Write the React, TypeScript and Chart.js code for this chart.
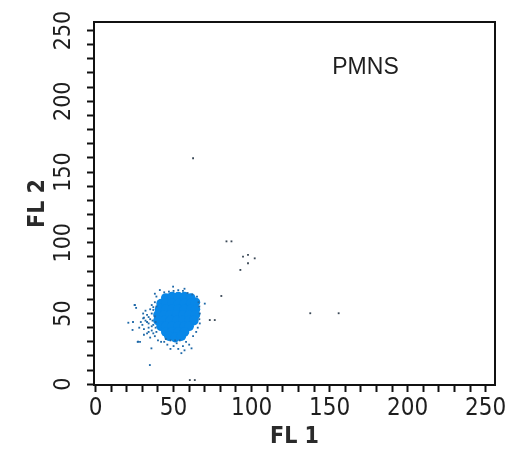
import { useEffect, useRef } from 'react';
import { Chart, registerables } from 'chart.js';

Chart.register(...registerables);

// ---- data ----
const X_TICKS = [0, 10, 20, 30, 40, 50, 60, 70, 80, 90, 100, 110, 120, 130, 140, 150, 160, 170, 180, 190, 200, 210, 220, 230, 240, 250];
const Y_TICKS = [0, 10, 20, 30, 40, 50, 60, 70, 80, 90, 100, 110, 120, 130, 140, 150, 160, 170, 180, 190, 200, 210, 220, 230, 240, 250];
const LABELED_TICKS = [0, 50, 100, 150, 200, 250];

const X_TITLE = 'FL 1';
const Y_TITLE = 'FL 2';
const GATE_LABEL = 'PMNS';
const GATE_LABEL_AT = { x: 173, y: 224 };

// dense core of the PMN population
const CORE_POINTS: [number, number][] = [
  [45, 61], [49, 62], [53, 62], [57, 62], [61, 61],
  [42, 57], [45, 57], [49, 57], [53, 57], [57, 57], [61, 57], [64, 58],
  [41, 53], [45, 53], [49, 53], [53, 53], [57, 53], [61, 53], [64, 53],
  [40, 49], [44, 49], [48, 49], [52, 49], [56, 49], [60, 49], [64, 49],
  [40, 45], [44, 45], [48, 45], [52, 45], [56, 45], [60, 45], [63, 45],
  [42, 41], [45, 41], [49, 41], [53, 41], [57, 41], [60, 41],
  [45, 37], [49, 37], [53, 37], [57, 37],
  [47, 34], [51, 33], [55, 34],
];

// scattered events around the core
const EDGE_POINTS: [number, number][] = [
  [36, 50], [35, 46], [37, 42], [34, 40], [36, 38], [33, 44], [31, 47], [30, 42], [28, 40],
  [33, 36], [35, 33], [38, 34], [27, 30], [28.5, 30], [25, 56], [26, 54], [24, 44], [21, 43.5],
  [23.7, 38.4], [31, 35], [35.8, 25.4], [34.8, 13.6], [36, 56], [38, 58], [39, 62], [41.2, 66.6],
  [38, 64], [44, 65], [47, 65.5], [50, 66], [53, 66.5], [56, 66], [59, 64.5], [62, 63.5],
  [65, 62], [49.7, 69], [57, 67.5], [66, 58], [66.5, 55], [66.8, 50], [66.5, 46], [66.8, 43],
  [65.5, 40], [64.5, 37], [62.5, 34], [70, 57], [44, 30], [46, 28], [48, 31], [50, 27],
  [52, 29], [53, 25], [55, 22], [56, 27], [58, 30], [60, 28], [61.5, 25.4], [48, 25],
  [57, 24], [51, 31], [54, 31], [45, 32], [42, 30], [40, 31], [32, 52], [33, 49],
  [34, 47.5], [36.5, 45], [37, 52.5], [38, 48], [38.5, 44], [38.5, 40], [36, 41], [34, 43],
  [32, 45], [30.5, 50], [29, 44], [31, 39], [34, 37], [37, 36], [39, 37], [39, 55],
  [37, 54.5], [35, 53], [25.2, 56], [27.3, 30.1], [30.5, 46.6],
];

// isolated events far from the population
const OUTLIER_POINTS: [number, number][] = [
  [73.2, 45.4], [76.4, 45.4], [80.6, 62.4], [62.5, 159.7], [83.9, 101], [87.1, 101],
  [94.5, 90.2], [97.7, 91.4], [102, 89], [97.7, 85.5], [92.8, 80.8],
  [137.6, 50.2], [155.8, 50.2], [60.4, 3], [63.6, 3],
];

const TICK_FONT_FAMILY = '"DejaVu Sans Condensed", "Liberation Sans", sans-serif';
const TITLE_FONT_FAMILY = '"DejaVu Sans Condensed", "Liberation Sans", sans-serif';
const TEXT_COLOR = '#1e1e1e';
const AXIS_COLOR = '#111111';

const frameBox = {
  id: 'frameBox',
  afterDatasetsDraw(chart: any) {
    const { ctx, chartArea } = chart;
    ctx.save();
    ctx.strokeStyle = AXIS_COLOR;
    ctx.lineWidth = 2;
    ctx.strokeRect(chartArea.left, chartArea.top, chartArea.right - chartArea.left, chartArea.bottom - chartArea.top);
    // gate label
    const xs = chart.scales.x;
    const ys = chart.scales.y;
    ctx.fillStyle = TEXT_COLOR;
    ctx.font = '23px "Liberation Sans", Arial, sans-serif';
    ctx.textAlign = 'center';
    ctx.textBaseline = 'middle';
    ctx.fillText(GATE_LABEL, xs.getPixelForValue(GATE_LABEL_AT.x), ys.getPixelForValue(GATE_LABEL_AT.y));
    ctx.restore();
  },
};

const toXY = (pts: [number, number][]) => pts.map(([x, y]) => ({ x, y }));

export default function App() {
  const ref = useRef<HTMLCanvasElement>(null);

  useEffect(() => {
    if (!ref.current) return;
    const chart = new Chart(ref.current, {
      type: 'scatter',
      data: {
        datasets: [
          {
            label: 'edge',
            data: toXY(EDGE_POINTS),
            pointStyle: 'rect',
            pointRadius: 1.3,
            backgroundColor: '#1f69a8',
            borderWidth: 0,
          },
          {
            label: 'core',
            data: toXY(CORE_POINTS),
            pointStyle: 'circle',
            pointRadius: 4.8,
            backgroundColor: '#0887e8',
            borderWidth: 0,
          },
          {
            label: 'outliers',
            data: toXY(OUTLIER_POINTS),
            pointStyle: 'rect',
            pointRadius: 1.3,
            backgroundColor: '#3a4856',
            borderWidth: 0,
          },
        ],
      },
      options: {
        animation: false,
        responsive: true,
        maintainAspectRatio: false,
        layout: { padding: { top: 22, right: 17, left: 0, bottom: 0 } },
        plugins: {
          legend: { display: false },
          tooltip: { enabled: false },
        },
        scales: {
          x: {
            type: 'linear',
            min: -1,
            max: 256,
            afterBuildTicks: (s: any) => {
              s.ticks = X_TICKS.map((v) => ({ value: v }));
            },
            afterFit: (s: any) => {
              s.height = 67;
            },
            ticks: {
              autoSkip: false,
              maxRotation: 0,
              minRotation: 0,
              padding: 2,
              color: TEXT_COLOR,
              font: { family: TICK_FONT_FAMILY, size: 24 },
              callback: (v: any) => (LABELED_TICKS.includes(Number(v)) ? String(v) : ''),
            },
            grid: {
              drawOnChartArea: false,
              drawTicks: true,
              tickLength: 7,
              tickWidth: 2,
              tickColor: AXIS_COLOR,
            },
            border: { display: true, color: AXIS_COLOR, width: 2 },
            title: {
              display: true,
              text: X_TITLE,
              color: '#2a2a2a',
              font: { family: TITLE_FONT_FAMILY, size: 23, weight: 'bold' },
              padding: { top: 0, bottom: 1 },
            },
          },
          y: {
            type: 'linear',
            min: -0.5,
            max: 256,
            afterBuildTicks: (s: any) => {
              s.ticks = Y_TICKS.map((v) => ({ value: v }));
            },
            afterFit: (s: any) => {
              s.width = 94;
            },
            ticks: {
              autoSkip: false,
              minRotation: 90,
              maxRotation: 90,
              crossAlign: 'center',
              padding: 3,
              color: TEXT_COLOR,
              font: { family: TICK_FONT_FAMILY, size: 23 },
              callback: (v: any) => (LABELED_TICKS.includes(Number(v)) ? String(v) : ''),
            },
            grid: {
              drawOnChartArea: false,
              drawTicks: true,
              tickLength: 7,
              tickWidth: 2,
              tickColor: AXIS_COLOR,
            },
            border: { display: true, color: AXIS_COLOR, width: 2 },
            title: {
              display: true,
              text: Y_TITLE,
              color: '#2a2a2a',
              font: { family: TITLE_FONT_FAMILY, size: 23, weight: 'bold' },
              padding: { top: 24, bottom: 0 },
            },
          },
        },
      },
      plugins: [frameBox],
    } as any);
    return () => chart.destroy();
  }, []);

  return (
    <div style={{ position: 'fixed', left: 0, top: 0, width: 512, height: 452, background: '#ffffff' }}>
      <canvas ref={ref} />
    </div>
  );
}
